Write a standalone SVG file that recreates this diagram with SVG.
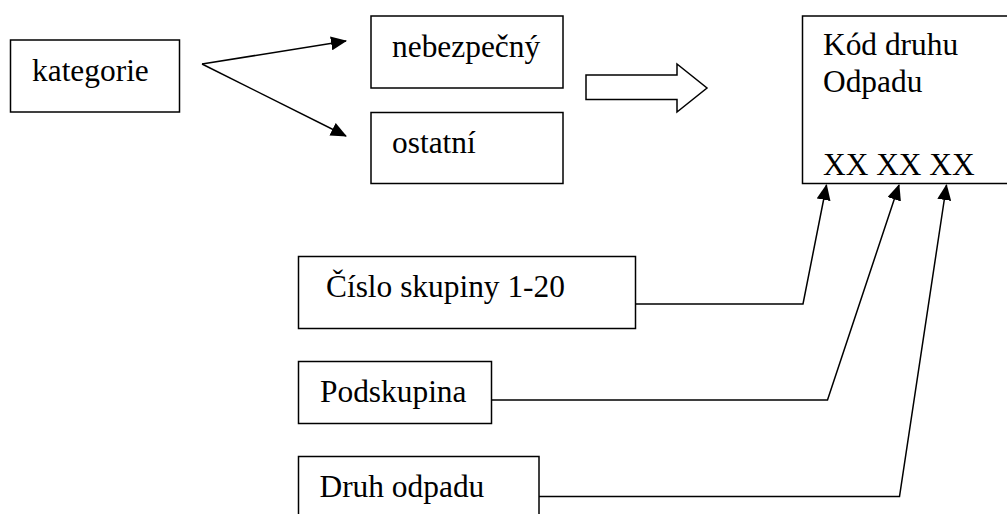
<svg xmlns="http://www.w3.org/2000/svg" width="1007" height="514" viewBox="0 0 1007 514">
  <style>
    .box { fill: #ffffff; stroke: #000000; stroke-width: 1.5; }
    .lbl { font-family: "Liberation Serif", "Times New Roman", serif; font-size: 31.4px; fill: #000000; }
    .conn { fill: none; stroke: #000000; stroke-width: 1.5; }
  </style>
  <defs>
    <marker id="arrow" viewBox="0 0 16 14" refX="15" refY="7" markerWidth="16" markerHeight="14" markerUnits="userSpaceOnUse" orient="auto">
      <path d="M0,0 L16,7 L0,14 z" fill="#000000"/>
    </marker>
  </defs>

  <g id="kategorie">
    <rect class="box" x="10.5" y="40" width="169" height="72"/>
    <text class="lbl" x="32" y="81">kategorie</text>
  </g>
  <g id="nebezpecny">
    <rect class="box" x="371" y="16" width="192" height="72"/>
    <text class="lbl" x="392" y="57">nebezpečný</text>
  </g>
  <g id="ostatni">
    <rect class="box" x="371" y="112.5" width="192" height="71"/>
    <text class="lbl" x="392" y="153">ostatní</text>
  </g>
  <g id="block-arrow">
    <polygon class="box" points="586,75 677,75 677,64 707,88 677,112 677,99.5 586,99.5"/>
  </g>
  <g id="kod">
    <rect class="box" x="802.5" y="16" width="220" height="167.5"/>
    <text class="lbl" x="823" y="55">Kód druhu</text>
    <text class="lbl" x="823" y="92">Odpadu</text>
    <text class="lbl" x="823" y="175">XX XX XX</text>
  </g>
  <g id="cislo">
    <rect class="box" x="298.5" y="256.5" width="337" height="72"/>
    <text class="lbl" x="326" y="297">Číslo skupiny 1-20</text>
  </g>
  <g id="podskupina">
    <rect class="box" x="298.5" y="361.5" width="193" height="62"/>
    <text class="lbl" x="320" y="402">Podskupina</text>
  </g>
  <g id="druh">
    <rect class="box" x="298.5" y="456.5" width="240.5" height="70"/>
    <text class="lbl" x="319.5" y="497">Druh odpadu</text>
  </g>

  <g id="connectors">
    <line class="conn" x1="202" y1="64" x2="346" y2="41" marker-end="url(#arrow)"/>
    <line class="conn" x1="202" y1="64" x2="346" y2="136" marker-end="url(#arrow)"/>
    <polyline class="conn" points="635.5,304 803,304 826.5,185" marker-end="url(#arrow)"/>
    <polyline class="conn" points="491.5,400 827.5,400 899,185" marker-end="url(#arrow)"/>
    <polyline class="conn" points="539,496.5 899.5,496.5 946.5,185" marker-end="url(#arrow)"/>
  </g>
</svg>
